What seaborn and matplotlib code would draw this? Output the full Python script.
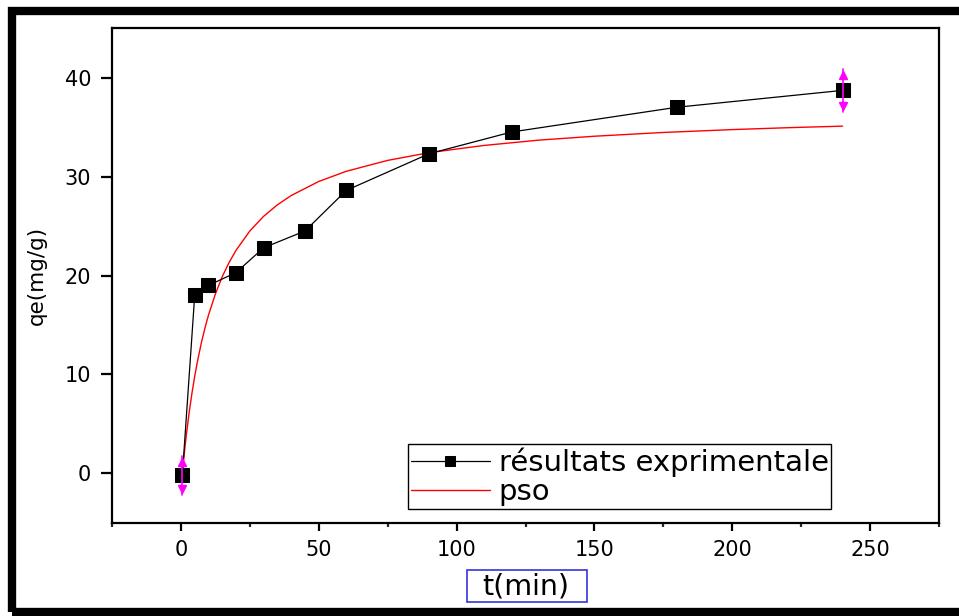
import matplotlib
matplotlib.use("Agg")
import matplotlib.pyplot as plt
import seaborn as sns
import pandas as pd
from matplotlib.patches import Rectangle

# ---- data ----
t_exp = [0.5, 5, 10, 20, 30, 45, 60, 90, 120, 180, 240]
qe_exp = [-0.2, 18.0, 19.0, 20.3, 22.8, 24.5, 28.6, 32.3, 34.5, 37.0, 38.7]
qe_err = [2.0, 0, 0, 0, 0, 0, 0, 0, 0, 0, 2.2]

t_pso = [0.5, 1, 1.5, 2, 3, 4, 5, 6, 7.5, 9, 10, 12.5, 15, 17.5, 20, 25, 30, 35,
         40, 50, 60, 75, 90, 110, 130, 150, 175, 200, 220, 240]
q_pso = [0.0, 1.43, 2.75, 3.98, 6.19, 8.12, 9.82, 11.33, 13.31, 15.0, 16.0, 18.14,
         19.89, 21.33, 22.55, 24.5, 25.98, 27.14, 28.08, 29.5, 30.53, 31.63, 32.41,
         33.14, 33.68, 34.07, 34.45, 34.74, 34.93, 35.09]

x_ticks = [0, 50, 100, 150, 200, 250]
y_ticks = [0, 10, 20, 30, 40]
label_exp = "résultats exprimentale"
label_pso = "pso"

sns.set_style("ticks")
plt.rcParams['font.family'] = ['DejaVu Sans']
plt.rcParams['text.color'] = 'black'
plt.rcParams['axes.labelcolor'] = 'black'

fig = plt.figure(figsize=(9.59, 6.16), dpi=100)
ax = fig.add_axes([0.1168, 0.151, 0.9792 - 0.1168, 0.9545 - 0.151])

df_exp = pd.DataFrame({"t": t_exp, "qe": qe_exp})
df_pso = pd.DataFrame({"t": t_pso, "q": q_pso})

sns.lineplot(data=df_pso, x="t", y="q", ax=ax, color="#ff0000", linewidth=1.0,
             label=label_pso, sort=False, zorder=2)
sns.lineplot(data=df_exp, x="t", y="qe", ax=ax, color="black", linewidth=0.9,
             marker="s", markersize=9.5, markeredgecolor="black",
             markerfacecolor="black", label=label_exp, sort=False, zorder=3)

# error bars (magenta double arrows) on first and last points
for ti, qi, ei in zip(t_exp, qe_exp, qe_err):
    if ei > 0:
        ax.plot([ti, ti], [qi - ei, qi + ei], color="#ff00ff", lw=1.2, zorder=4)
        ax.plot([ti], [qi + ei - 0.6], marker="^", color="#ff00ff", ms=6, zorder=4)
        ax.plot([ti], [qi - ei + 0.6], marker="v", color="#ff00ff", ms=6, zorder=4)

ax.set_xlim(-25, 275)
ax.set_ylim(-5, 45)
ax.set_xticks(x_ticks)
ax.set_yticks(y_ticks)
ax.set_xticks([-25, 25, 75, 125, 175, 225, 275], minor=True)
ax.tick_params(axis="both", which="major", direction="out", width=1.6,
               labelsize=15, colors="black")
ax.tick_params(axis="x", which="major", length=6, pad=6)
ax.tick_params(axis="y", which="major", length=8, pad=7)
ax.tick_params(axis="x", which="minor", direction="out", length=3, width=1.6)
for s in ax.spines.values():
    s.set_visible(True)
    s.set_linewidth(1.6)
    s.set_color("black")

ax.set_ylabel("qe(mg/g)", fontsize=15.5, labelpad=13)
ax.set_xlabel("t(min)", fontsize=20.5, labelpad=9)

# blue frame around the x-axis title
fig.patches.append(Rectangle((467 / 959, 1 - 602 / 616), 120 / 959, 32 / 616,
                             transform=fig.transFigure, fill=False,
                             edgecolor="#3333dd", linewidth=1.2, zorder=5))

# legend: experimental first, then pso
handles, labels = ax.get_legend_handles_labels()
order = [labels.index(label_exp), labels.index(label_pso)]
leg = ax.legend([handles[i] for i in order], [labels[i] for i in order],
                loc="lower left", bbox_to_anchor=(0.358, 0.028),
                borderaxespad=0, fontsize=21, frameon=True, fancybox=False,
                framealpha=1, edgecolor="black", handlelength=2.7,
                handletextpad=0.3, borderpad=0.1, labelspacing=0.05,
                numpoints=1)
leg.get_frame().set_linewidth(1.0)
for txt in leg.get_texts():
    txt.set_color("black")
for h in leg.legend_handles:
    try:
        h.set_markersize(7)
    except Exception:
        pass

# thick outer frame of the picture
fig.patches.append(Rectangle((0.0125, 0.0065), 1.1, 0.982 - 0.0065,
                             transform=fig.transFigure, fill=False,
                             edgecolor="black", linewidth=6, zorder=10))

fig.savefig("out.png", dpi=100)
